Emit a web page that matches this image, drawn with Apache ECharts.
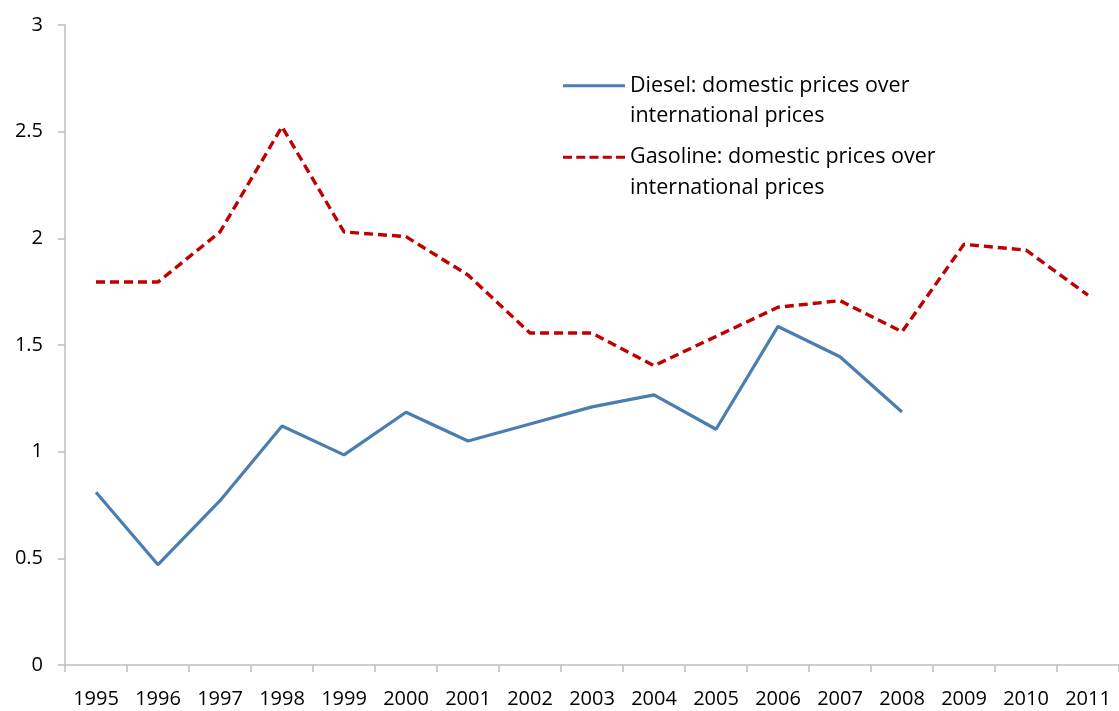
<!DOCTYPE html>
<html><head><meta charset="utf-8">
<script src="https://cdn.jsdelivr.net/npm/echarts@6/dist/echarts.min.js"></script>
<style>html,body{margin:0;padding:0;background:#fff}#c{width:1119px;height:711px}</style>
</head><body><div id="c"></div>
<script>
var years = ['1995','1996','1997','1998','1999','2000','2001','2002','2003','2004','2005','2006','2007','2008','2009','2010','2011'];
var diesel = [0.81,0.47,0.77,1.12,0.985,1.185,1.05,1.13,1.21,1.266,1.105,1.587,1.445,1.186,null,null,null];
var gasoline = [1.795,1.795,2.03,2.523,2.03,2.008,1.828,1.556,1.556,1.403,1.54,1.677,1.708,1.562,1.972,1.945,1.734];
var dieselName = 'Diesel: domestic prices over\ninternational prices';
var gasolineName = 'Gasoline: domestic prices over\ninternational prices';
var font = '"Open Sans", "Noto Sans", sans-serif';
var solidIcon = 'path://M0 0h62v3h-62z';
var dashIcon = 'path://M0 0h9v3h-9zM13.25 0h9v3h-9zM26.5 0h9v3h-9zM39.75 0h9v3h-9zM53 0h9v3h-9z';
var chart = echarts.init(document.getElementById('c'));
chart.setOption({
  animation: false,
  textStyle: {fontFamily: font},
  grid: {left: 65, right: -5, top: 25, bottom: 46, containLabel: false},
  legend: {
    orient: 'vertical', left: 558, top: 35, itemWidth: 62, itemHeight: 3, itemGap: -20,
    formatter: function (n) {
      return '{e| }\n' + n.split('\n').map(function (s) { return '{t|' + s + '}'; }).join('\n');
    },
    textStyle: {
      fontSize: 21.5, color: '#000', lineHeight: 30.5, fontFamily: font,
      rich: {
        e: {fontSize: 21.5, lineHeight: 30.5, fontFamily: font},
        t: {fontSize: 21.5, lineHeight: 30.5, color: '#000', fontFamily: font}
      }
    },
    data: [{name: dieselName, icon: solidIcon, itemStyle: {color: '#4a7eb0'}},
           {name: gasolineName, icon: dashIcon, itemStyle: {color: '#c00000'}}]
  },
  xAxis: {
    type: 'category', data: years, boundaryGap: true,
    axisLine: {lineStyle: {color: '#bfbfbf', width: 1.5}},
    axisTick: {show: true, length: 7, inside: false, lineStyle: {color: '#bfbfbf', width: 1.5}},
    axisLabel: {fontSize: 20, color: '#000', margin: 24, interval: 0, fontFamily: font}
  },
  yAxis: {
    type: 'value', min: 0, max: 3, interval: 0.5,
    axisLine: {show: true, lineStyle: {color: '#bfbfbf', width: 1.5}},
    axisTick: {show: true, length: 7, lineStyle: {color: '#bfbfbf', width: 1.5}},
    splitLine: {show: false},
    axisLabel: {fontSize: 20, color: '#000', margin: 22, fontFamily: font}
  },
  series: [
    {name: dieselName, type: 'line', data: diesel, symbol: 'none', connectNulls: false,
     lineStyle: {color: '#4a7eb0', width: 3.2}, itemStyle: {color: '#4a7eb0'}},
    {name: gasolineName, type: 'line', data: gasoline, symbol: 'none',
     lineStyle: {color: '#c00000', width: 3.4, type: [9, 5]}, itemStyle: {color: '#c00000'}}
  ]
});
</script></body></html>
